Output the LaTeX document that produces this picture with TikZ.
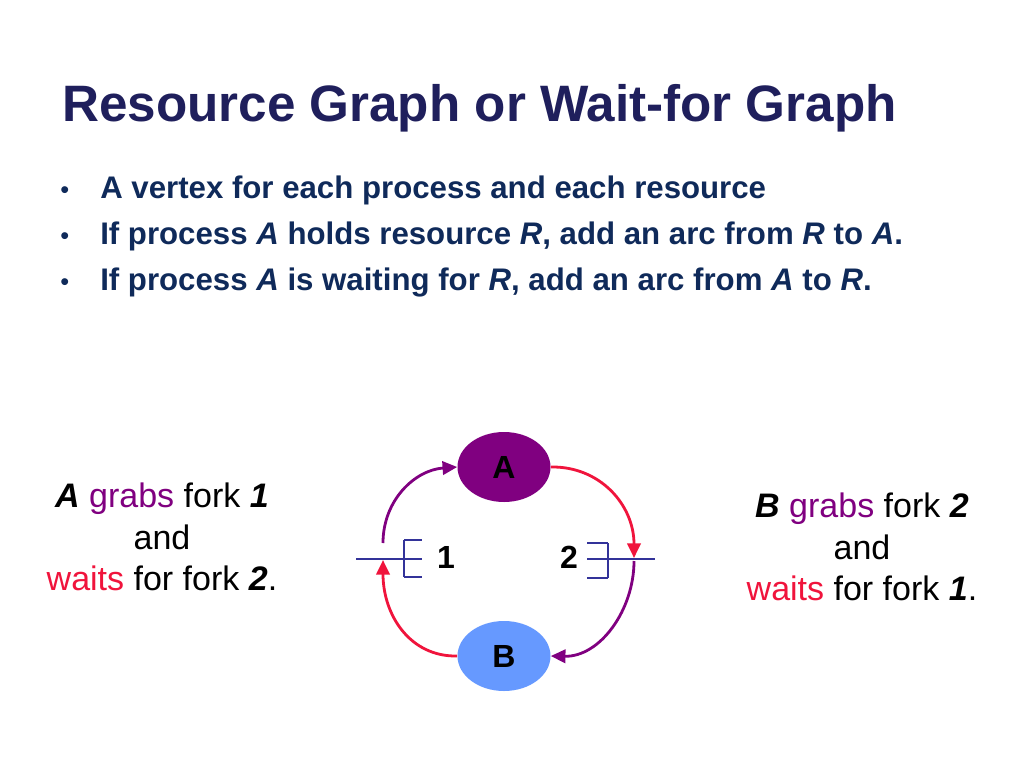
\documentclass[tikz,border=0pt]{standalone}
\usepackage{fontspec}
\setmainfont{Liberation Sans}
\usetikzlibrary{shapes.geometric,arrows.meta}
\definecolor{navy}{HTML}{1F1F5C}
\definecolor{dblue}{HTML}{0F2A5A}
\definecolor{purp}{HTML}{800080}
\definecolor{rd}{HTML}{F0143C}
\definecolor{lblue}{HTML}{6699FF}
\definecolor{fork}{HTML}{333399}
\tikzset{
 vert/.style={ellipse,minimum width=69.75pt,minimum height=52.5pt,inner sep=0pt,font=\fontsize{24}{28}\selectfont\bfseries},
 arc/.style={line width=2.1pt,-{Triangle[length=11pt,width=10pt]}},
 fk/.style={draw=fork,line width=1pt},
 bul/.style={anchor=base west,text=dblue,font=\fontsize{23.4}{26}\selectfont\bfseries},
 side/.style={align=center,font=\fontsize{25.5}{31}\selectfont}
}
\begin{document}
\begin{tikzpicture}[x=0.75pt,y=-0.75pt]
\useasboundingbox (0,0) rectangle (1024,768);
\fill[white] (0,0) rectangle (1024,768);
\node[anchor=base west,text=navy,font=\fontsize{38.4}{42}\selectfont\bfseries,inner sep=0] (title) at (62,121) {Resource Graph or Wait-for Graph};
\node[bul,inner sep=0,font=\fontsize{19}{22}\selectfont] (b1) at (60,198) {\textbullet};
\node[bul,inner sep=0,font=\fontsize{19}{22}\selectfont] (b2) at (60,244) {\textbullet};
\node[bul,inner sep=0,font=\fontsize{19}{22}\selectfont] (b3) at (60,290) {\textbullet};
\node[bul,inner sep=0] (t1) at (100,198) {A vertex for each process and each resource};
\node[bul,inner sep=0] (t2) at (100,244) {If process \textit{A} holds resource \textit{R}, add an arc from \textit{R} to \textit{A}.};
\node[bul,inner sep=0] (t3) at (100,290) {If process \textit{A} is waiting for \textit{R}, add an arc from \textit{A} to \textit{R}.};
\node[vert,fill=purp] (A) at (504,467) {A};
\node[vert,fill=lblue] (B) at (504,656) {B};
% forks
\draw[fk] (356,559) -- (404,559);
\draw[fk] (404,540) -- (404,577) (404,540) -- (422,540) (404,559) -- (422,559) (404,577) -- (422,577);
\draw[fk] (608,559) -- (655,559);
\draw[fk] (608,543) -- (608,578) (587,543) -- (608,543) (587,559) -- (608,559) (587,578) -- (608,578);
\node[font=\fontsize{24}{28}\selectfont\bfseries] (f1) at (446,557) {1};
\node[font=\fontsize{24}{28}\selectfont\bfseries] (f2) at (569,557) {2};
\coordinate (p1) at (383,543);
\coordinate (p1b) at (383,560);
\coordinate (p2) at (634,558);
\coordinate (p2b) at (634,561);
\draw[arc,purp] (p1) .. controls (383,500) and (415,470) .. (A.west);
\draw[arc,rd] (B.west) .. controls (410,657) and (383,615) .. (p1b);
\draw[arc,rd] (A.east) .. controls (600,466) and (634,505) .. (p2);
\draw[arc,purp] (p2b) .. controls (634,610) and (600,657) .. (B.east);
\node[side] (left) at (162,537) {\textbf{\textit{A}} \textcolor{purp}{grabs} fork \textbf{\textit{1}}\\and\\\textcolor{rd}{waits} for fork \textbf{\textit{2}}.};
\node[side] (right) at (862,547) {\textbf{\textit{B}} \textcolor{purp}{grabs} fork \textbf{\textit{2}}\\and\\\textcolor{rd}{waits} for fork \textbf{\textit{1}}.};
\end{tikzpicture}
\end{document}
